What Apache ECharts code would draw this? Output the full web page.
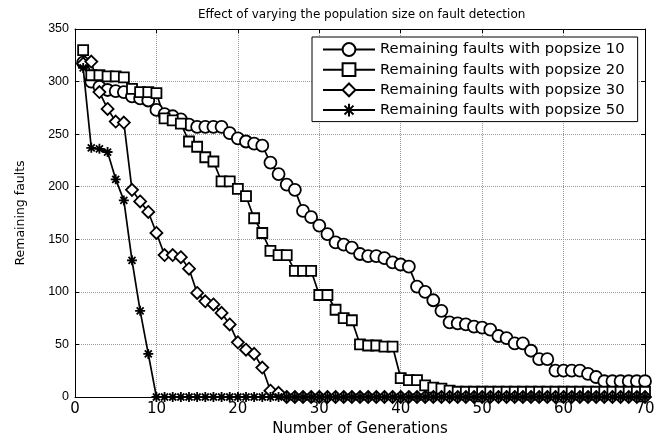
<!DOCTYPE html>
<html><head><meta charset="utf-8">
<script src="https://cdn.jsdelivr.net/npm/echarts@6/dist/echarts.min.js"></script>
<style>html,body{margin:0;padding:0;background:#fff}#c{width:661px;height:436px}</style>
</head><body><div id="c"></div>
<script>
const generations = [1,2,3,4,5,6,7,8,9,10,11,12,13,14,15,16,17,18,19,20,21,22,23,24,25,26,27,28,29,30,31,32,33,34,35,36,37,38,39,40,41,42,43,44,45,46,47,48,49,50,51,52,53,54,55,56,57,58,59,60,61,62,63,64,65,66,67,68,69,70];
const pop10 = [318,300,295,292,291,290,286,284,282,273,269,267,264,259,257,257,257,257,251,246,243,241,239,223,212,202,197,177,171,163,155,147,145,142,136,134,134,132,128,126,124,105,100,92,82,71,70,69,67,66,64,58,56,51,51,44,36,36,25,25,25,25,22,19,15,15,15,15,15,15];
const pop20 = [330,306,306,305,305,304,293,290,290,289,265,263,260,243,238,228,224,205,205,198,191,170,156,139,135,135,120,120,120,97,97,83,75,73,50,49,49,48,48,18,16,16,11,9,8,6,5,5,5,5,5,5,5,5,5,5,5,5,5,5,5,5,5,5,5,5,5,5,5,5];
const pop30 = [317,319,290,274,262,261,197,186,176,156,135,135,133,122,99,91,88,80,69,52,45,41,28,6,4,0,0,0,0,0,0,0,0,0,0,0,0,0,0,0,0,0,0,0,0,0,0,0,0,0,0,0,0,0,0,0,0,0,0,0,0,0,0,0,0,0,0,0,0,0];
const pop50 = [313,237,236,233,207,187,130,82,41,0,0,0,0,0,0,0,0,0,0,0,0,0,0,0,0,0,0,0,0,0,0,0,0,0,0,0,0,0,0,0,0,0,0,0,0,0,0,0,0,0,0,0,0,0,0,0,0,0,0,0,0,0,0,0,0,0,0,0,0,0];
const seriesNames = ['Remaining faults with popsize 10','Remaining faults with popsize 20','Remaining faults with popsize 30','Remaining faults with popsize 50'];
const xTicks = [0,10,20,30,40,50,60,70];
const yTicks = [0,50,100,150,200,250,300,350];

const WIDE = 'DejaVu Sans, sans-serif';
const NARROW = 'Liberation Sans, Arial, sans-serif';
const star = 'path://M5,0L5,10M0,5L10,5M1.5,1.5L8.5,8.5M1.5,8.5L8.5,1.5';
function pts(arr){ return arr.map((v,i)=>[generations[i], v]); }
function mk(name, data, symbol, size){
  return {
    name, type:'line', data: pts(data), symbol, symbolSize:size, clip:false,
    showAllSymbol:true,
    lineStyle:{color:'#000', width:1.7},
    itemStyle:{color: symbol===star ? '#000' : '#fff', borderColor:'#000', borderWidth:1.8},
    emphasis:{disabled:true}
  };
}
const chart = echarts.init(document.getElementById('c'), null, {renderer:'canvas'});
const axisCommon = {
  type:'value', axisLine:{show:true, onZero:false, lineStyle:{color:'#000', width:1}},
  axisTick:{show:true, inside:true, length:4, lineStyle:{color:'#000'}},
};
chart.setOption({
  animation:false,
  backgroundColor:'#fff',
  textStyle:{fontFamily:NARROW, color:'#000'},
  title:{text:'Effect of varying the population size on fault detection', left:193, top:4,
    textStyle:{fontFamily:WIDE, fontSize:12, fontWeight:'normal', color:'#000'}},
  grid:{left:75, right:16, top:29, bottom:39, containLabel:false, outerBoundsMode:'none'},
  legend:{
    orient:'vertical', left:312, top:37,
    padding:[5,13,4,10], itemWidth:52, itemHeight:16, itemGap:5.2,
    backgroundColor:'#fff', borderColor:'#000', borderWidth:1,
    textStyle:{fontFamily:WIDE, fontSize:14.75, color:'#000'},
    data: seriesNames
  },
  xAxis:[
    Object.assign({}, axisCommon, {min:xTicks[0], max:xTicks[xTicks.length-1], interval:10, position:'bottom',
      name:'Number of Generations', nameLocation:'middle', nameGap:20,
      nameTextStyle:{fontFamily:WIDE, fontSize:15, color:'#000'},
      axisLabel:{fontFamily:WIDE, fontSize:15, color:'#000', margin:5},
      splitLine:{show:true, lineStyle:{color:'#999', type:'dotted', width:1}}}),
    Object.assign({}, axisCommon, {min:0, max:70, interval:10, position:'top',
      axisLabel:{show:false}, splitLine:{show:false}})
  ],
  yAxis:[
    Object.assign({}, axisCommon, {min:yTicks[0], max:yTicks[yTicks.length-1], interval:50, position:'left',
      name:'Remaining faults', nameLocation:'middle', nameGap:48,
      nameTextStyle:{fontFamily:WIDE, fontSize:12.5, color:'#000'},
      axisLabel:{fontFamily:NARROW, fontSize:12.5, color:'#000', margin:6},
      splitLine:{show:true, lineStyle:{color:'#999', type:'dotted', width:1}}}),
    Object.assign({}, axisCommon, {min:0, max:350, interval:50, position:'right',
      axisLabel:{show:false}, splitLine:{show:false}})
  ],
  series:[
    mk(seriesNames[0], pop10, 'circle', 12),
    mk(seriesNames[1], pop20, 'rect', 10),
    mk(seriesNames[2], pop30, 'diamond', 12),
    mk(seriesNames[3], pop50, star, 10)
  ]
});
</script></body></html>
